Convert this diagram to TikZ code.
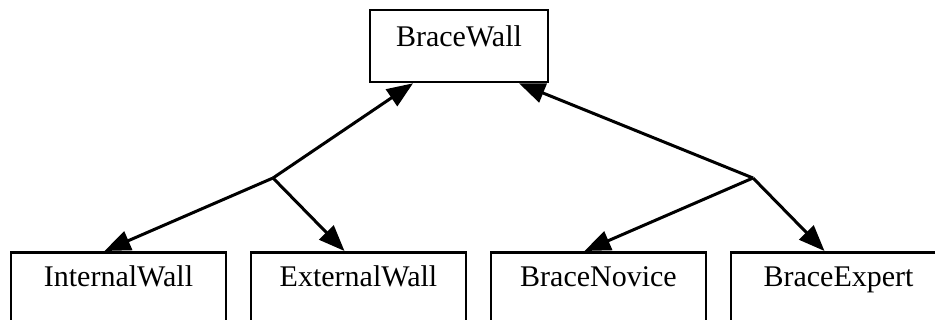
\documentclass[tikz,border=0pt]{standalone}
\usepackage{fontspec}
\setmainfont{Liberation Serif}
\usetikzlibrary{arrows.meta}
\begin{document}
\begin{tikzpicture}[x=1pt,y=-1pt,
  box/.style={draw=black,line width=2.6pt,rectangle,inner sep=0pt},
  lbl/.style={font=\fontsize{30}{36}\selectfont,anchor=base,inner sep=0pt},
  link/.style={line width=3pt,-{Triangle[length=26pt,width=20pt]},shorten >=0pt},
  stem/.style={line width=3pt}]
\useasboundingbox (0,0) rectangle (935,320);
% parent class
\node[box,minimum width=178pt,minimum height=72pt] (bw) at (459,46) {};
\node[lbl] at (459,47) {BraceWall};
% subclasses (boxes run past the lower edge)
\node[box,anchor=north,minimum width=215pt,minimum height=90pt] (iw) at (118.5,251) {};
\node[box,anchor=north,minimum width=215pt,minimum height=90pt] (ew) at (358.5,251) {};
\node[box,anchor=north,minimum width=215pt,minimum height=90pt] (bn) at (598.5,251) {};
\node[box,anchor=north,minimum width=215pt,minimum height=90pt] (be) at (838.5,251) {};
\node[lbl] at (118.5,287) {InternalWall};
\node[lbl] at (358.5,287) {ExternalWall};
\node[lbl] at (598.5,287) {BraceNovice};
\node[lbl] at (838.5,287) {BraceExpert};
% branch points
\coordinate (jl) at (273,178);
\coordinate (jr) at (753,178);
% connectors
\draw[link] (jl) -- ([xshift=-46pt]bw.south);
\draw[link] (jr) -- ([xshift=60pt]bw.south);
\draw[link] (jl) -- ([xshift=-14pt]iw.north);
\draw[link] (jl) -- ([xshift=-14pt]ew.north);
\draw[link] (jr) -- ([xshift=-14pt]bn.north);
\draw[link] (jr) -- ([xshift=-14pt]be.north);
\end{tikzpicture}
\end{document}
